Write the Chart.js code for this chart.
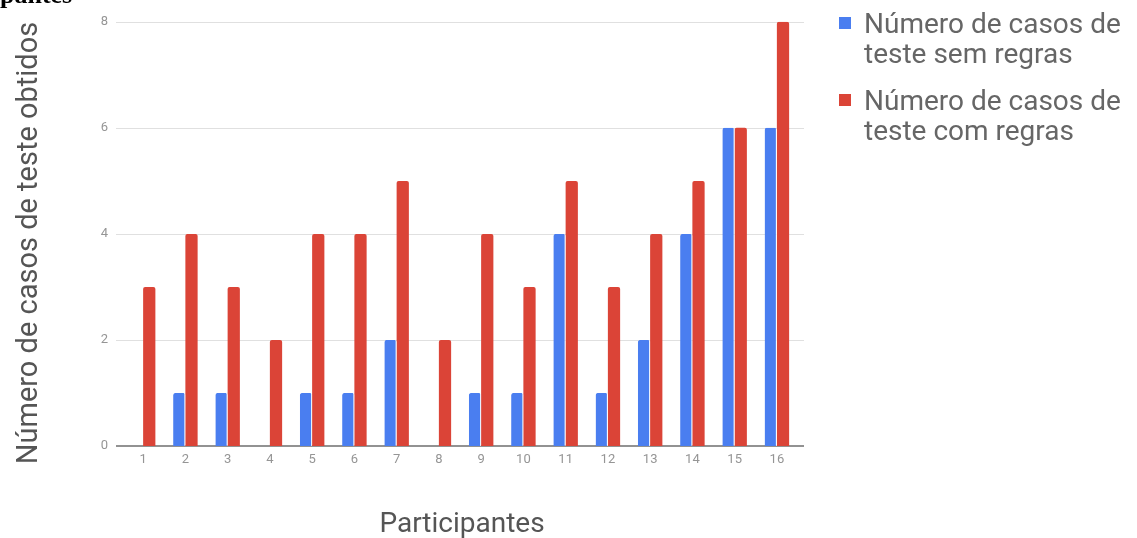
<!DOCTYPE html>
<html>
<head>
<meta charset="utf-8">
<script src="https://cdn.jsdelivr.net/npm/chart.js@4.4.1/dist/chart.umd.min.js"></script>
<style>
  html, body { margin: 0; padding: 0; background: #fff; overflow: hidden; }
  #wrap { position: relative; width: 1137px; height: 538px; overflow: hidden; }
  #cut { position: absolute; left: 0; top: -20px; font: bold 26px "Liberation Serif", serif; color: #000; white-space: nowrap; }
  canvas { position: absolute; left: 0; top: 0; }
</style>
</head>
<body>
<div id="wrap">
  <canvas id="c" width="1137" height="538"></canvas>
  <div id="cut">pantes</div>
</div>
<script>
// Participants and test-case counts per participant
const participantes = ['1','2','3','4','5','6','7','8','9','10','11','12','13','14','15','16'];
const semRegras = [0, 1, 1, 0, 1, 1, 2, 0, 1, 1, 4, 1, 2, 4, 6, 6];
const comRegras = [3, 4, 3, 2, 4, 4, 5, 2, 4, 3, 5, 3, 4, 5, 6, 8];
const yTicks = [0, 2, 4, 6, 8];

const seriesNames = [
  ['Número de casos de', 'teste sem regras'],
  ['Número de casos de', 'teste com regras']
];
const xTitle = 'Participantes';
const yTitle = 'Número de casos de teste obtidos';

const BLUE = '#4a7ef0';
const RED = '#db4437';
const FONT = 'Roboto, "Noto Sans", sans-serif';

// Horizontal grid lines, a little wider than the category band
const gridPlugin = {
  id: 'gridLines',
  beforeDatasetsDraw(chart) {
    const { ctx, chartArea, scales: { y } } = chart;
    ctx.save();
    yTicks.forEach(v => {
      const py = Math.round(y.getPixelForValue(v));
      ctx.beginPath();
      if (v === 0) { ctx.strokeStyle = '#929292'; ctx.lineWidth = 2; }
      else { ctx.strokeStyle = '#e0e0e0'; ctx.lineWidth = 1; }
      const off = ctx.lineWidth % 2 ? 0.5 : 0;
      ctx.moveTo(chartArea.left - 6, py + off);
      ctx.lineTo(chartArea.right + 6, py + off);
      ctx.stroke();
    });
    ctx.restore();
  }
};

// Axis titles and the two-line legend at the right
const labelsPlugin = {
  id: 'labels',
  afterDraw(chart) {
    const { ctx, chartArea } = chart;
    ctx.save();
    ctx.fillStyle = '#555';
    ctx.font = '28px ' + FONT;
    ctx.textAlign = 'center';
    ctx.textBaseline = 'alphabetic';
    ctx.fillText(xTitle, (chartArea.left + chartArea.right) / 2 + 2, 532);

    ctx.font = '29px ' + FONT;
    ctx.translate(37, 243);
    ctx.rotate(-Math.PI / 2);
    ctx.fillText(yTitle, 0, 0);
    ctx.restore();

    ctx.save();
    const colors = chart.data.datasets.map(d => d.backgroundColor);
    ctx.font = '28px ' + FONT;
    ctx.textAlign = 'left';
    ctx.textBaseline = 'alphabetic';
    const baseTop = [33, 110];
    seriesNames.forEach((lines, i) => {
      const b = baseTop[i];
      ctx.fillStyle = colors[i];
      ctx.fillRect(839, b - 16, 12, 12);
      ctx.fillStyle = '#666';
      lines.forEach((t, j) => ctx.fillText(t, 864, b + j * 30));
    });
    ctx.restore();
  }
};

new Chart(document.getElementById('c'), {
  type: 'bar',
  data: {
    labels: participantes,
    datasets: [
      {
        label: seriesNames[0].join(' '), data: semRegras, backgroundColor: BLUE,
        borderColor: '#ffffff', borderWidth: { top: 0, right: 1, bottom: 0, left: 0 }
      },
      { label: seriesNames[1].join(' '), data: comRegras, backgroundColor: RED, borderWidth: 0 }
    ]
  },
  options: {
    responsive: false,
    animation: false,
    devicePixelRatio: 1,
    layout: { padding: { left: 0, top: 19, right: 339, bottom: 0 } },
    datasets: {
      bar: {
        categoryPercentage: 0.58,
        barPercentage: 1,
        borderRadius: { topLeft: 2, topRight: 2, bottomLeft: 0, bottomRight: 0 },
        borderSkipped: 'start'
      }
    },
    plugins: {
      legend: { display: false },
      tooltip: { enabled: false },
      title: { display: false }
    },
    scales: {
      x: {
        grid: { display: false, drawTicks: false },
        border: { display: false },
        ticks: { color: '#959595', font: { family: FONT, size: 13 }, padding: 6, maxRotation: 0 },
        afterFit(s) { s.height = 92; }
      },
      y: {
        min: 0,
        max: 8,
        afterBuildTicks(s) { s.ticks = yTicks.map(v => ({ value: v })); },
        grid: { display: false, drawTicks: false },
        border: { display: false },
        ticks: { color: '#959595', font: { family: FONT, size: 13 }, padding: 14 },
        afterFit(s) { s.width = 122; }
      }
    }
  },
  plugins: [gridPlugin, labelsPlugin]
});
</script>
</body>
</html>
